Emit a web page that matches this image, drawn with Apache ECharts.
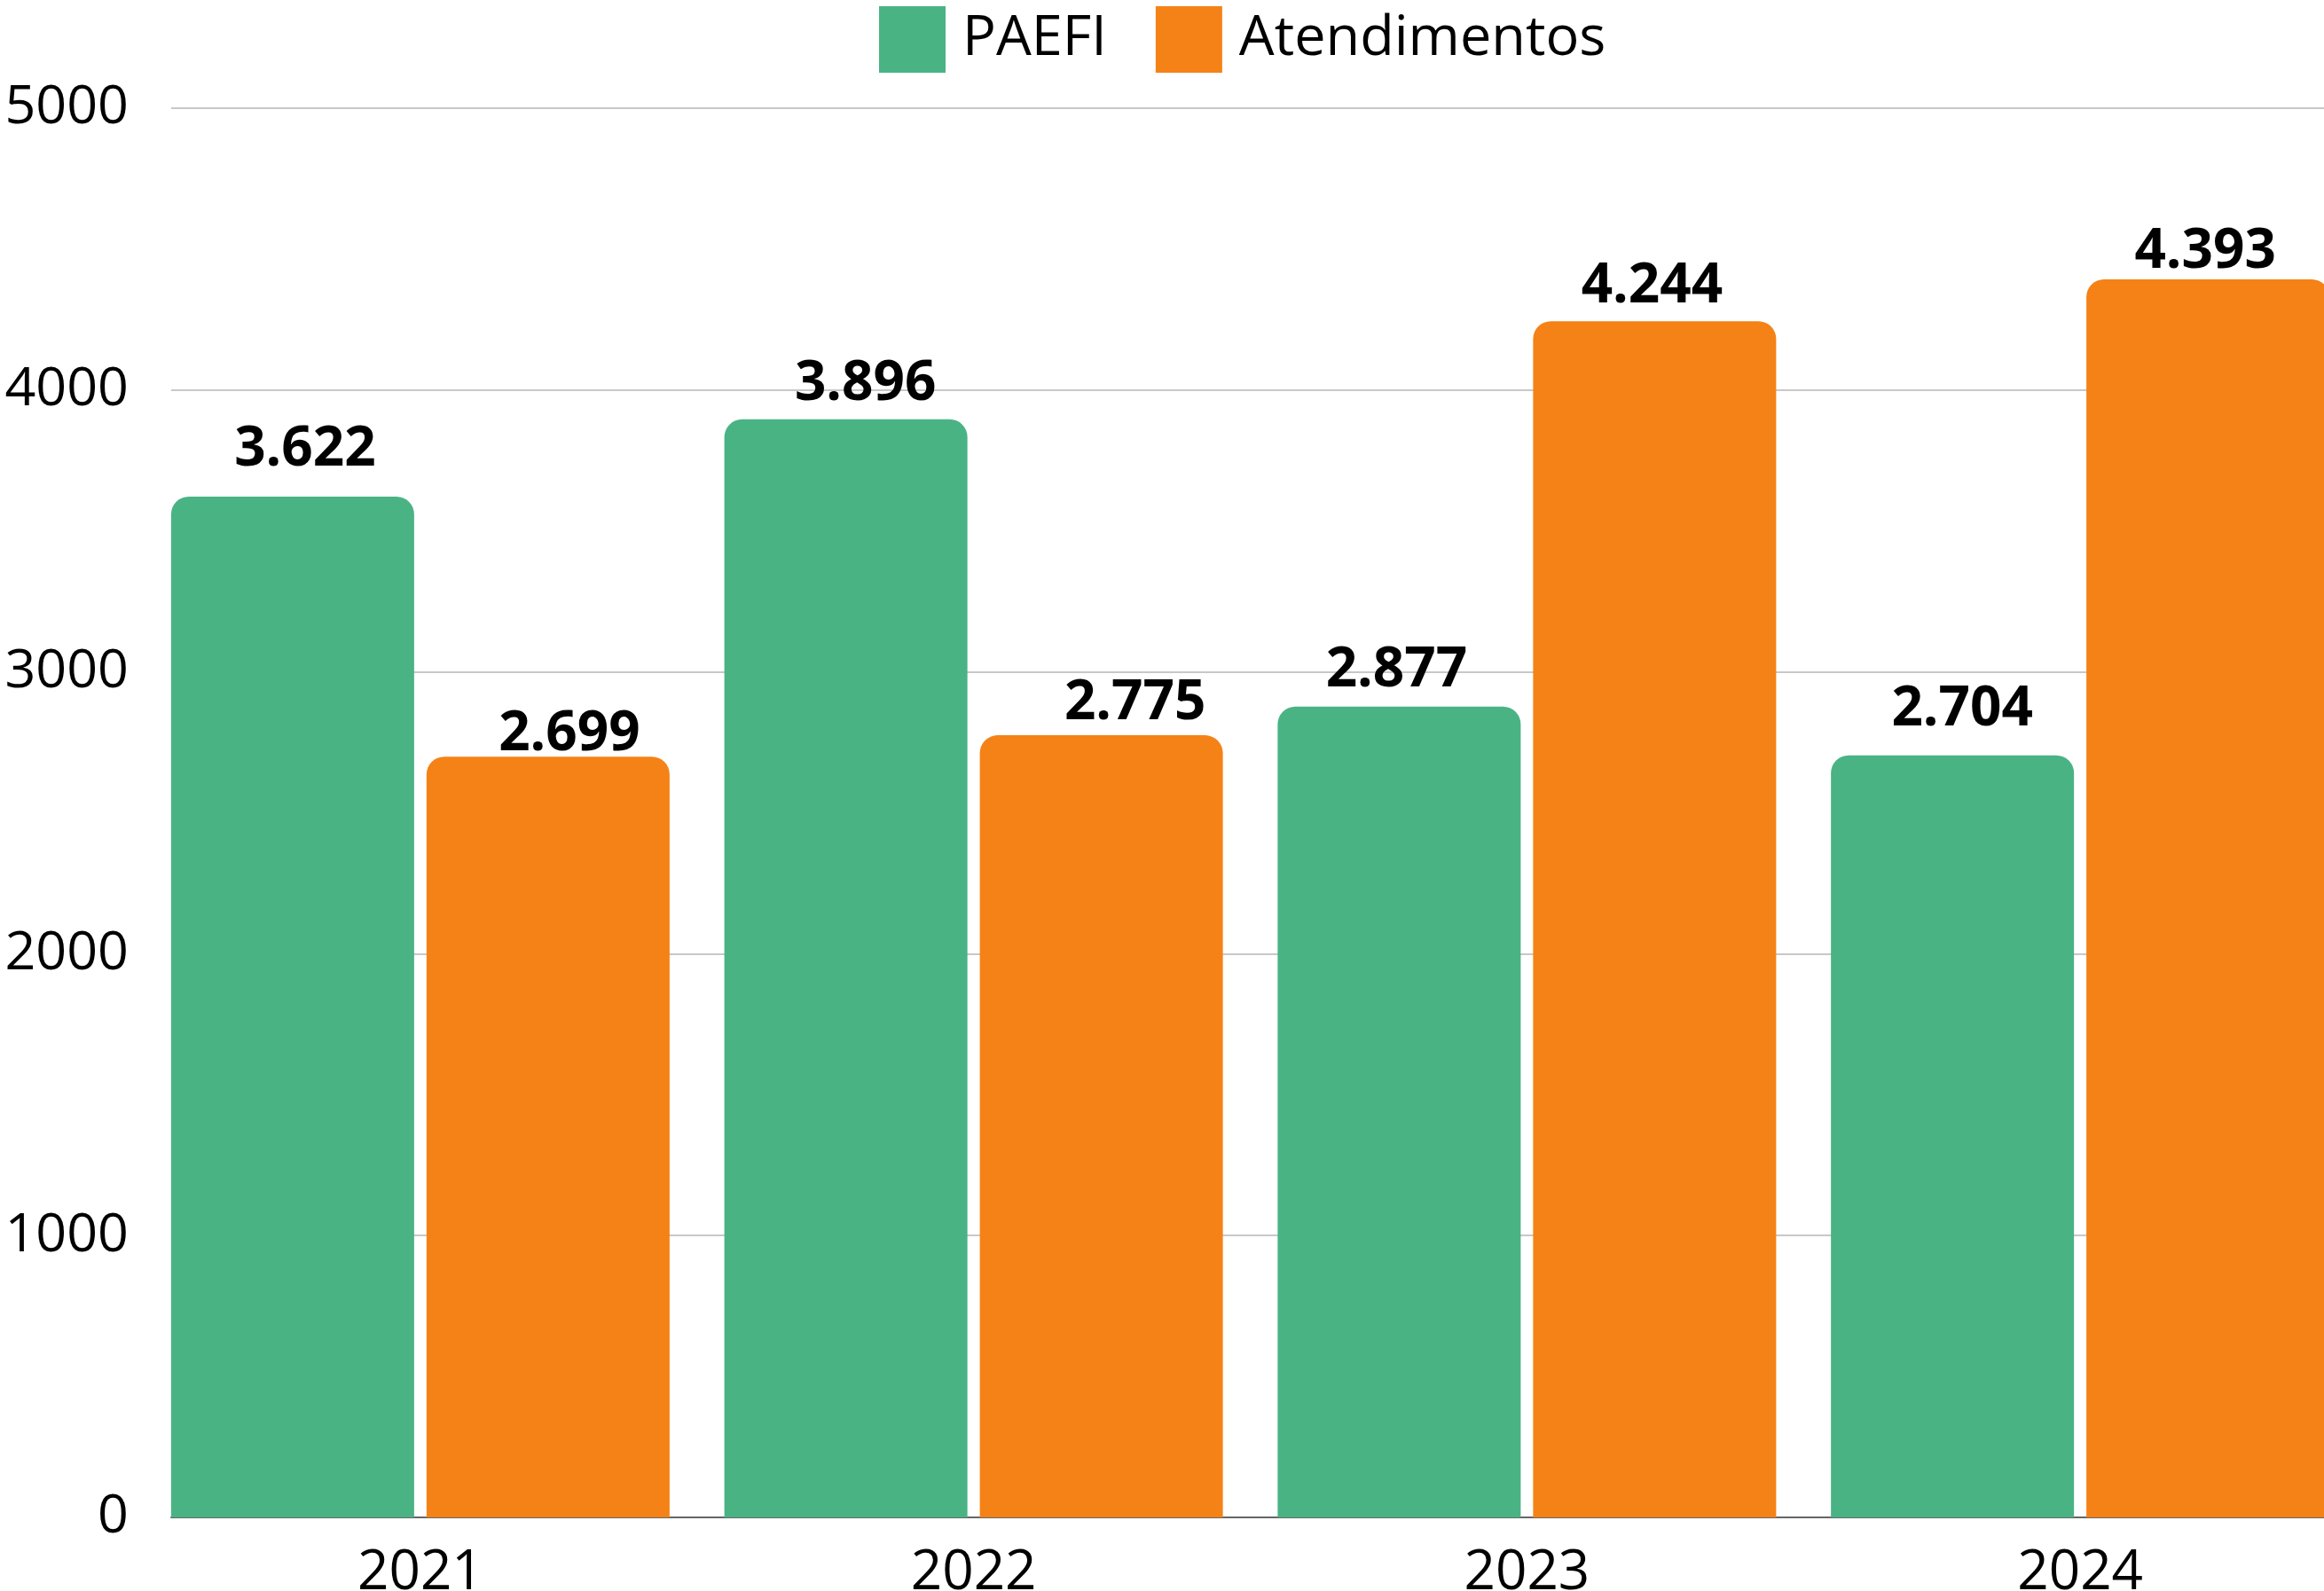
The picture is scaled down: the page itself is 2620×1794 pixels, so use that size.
<!DOCTYPE html>
<html>
<head>
<meta charset="utf-8">
<script src="https://cdn.jsdelivr.net/npm/echarts@6/dist/echarts.min.js"></script>
<style>
  html, body { margin: 0; padding: 0; background: #fff; }
  #chart { width: 2620px; height: 1794px; }
</style>
</head>
<body>
<div id="chart"></div>
<script>
const anos = ['2021', '2022', '2023', '2024']
const paefi = [3622, 3896, 2877, 2704]
const atendimentos = [2699, 2775, 4244, 4393]
const yTicks = [0, 1000, 2000, 3000, 4000, 5000]

const fonte = '"Open Sans", "Noto Sans", sans-serif'

// the labels in the original aren't placed evenly, small nudges [dx, dy]
const ajustePaefi = [[14, 0], [22, 13], [-3, 13], [11, 2]]
const ajusteAtend = [[24, 28], [38, 17], [-3, 14], [-3, 22]]

// 3622 -> "3.622"
function fmt(v) {
  return String(v).replace(/\B(?=(\d{3})+(?!\d))/g, '.')
}

const chart = echarts.init(document.getElementById('chart'))

const rotulo = {
  show: true,
  position: 'top',
  distance: 22,
  fontFamily: fonte,
  fontSize: 62,
  fontWeight: 'bold',
  color: '#000',
  formatter: p => fmt(p.value)
}

function itens(valores, ajustes) {
  return valores.map((v, i) => ({ value: v, label: { offset: ajustes[i] } }))
}

const option = {
  backgroundColor: '#fff',
  animation: false,
  color: ['#4AB384', '#F58216'],
  legend: {
    left: 991,
    top: 7,
    padding: 0,
    icon: 'rect',
    itemWidth: 75,
    itemHeight: 75,
    itemGap: 55,
    textStyle: { fontFamily: fonte, fontSize: 63, color: '#000', padding: [22, 0, 0, 14] },
    data: ['PAEFI', 'Atendimentos']
  },
  grid: [
    // bars grid (runs past the right edge, like the original)
    { left: 162, width: 2495, top: 122, bottom: 83, outerBoundsMode: 'none' },
    // gridlines / y labels
    { left: 193, right: 0, top: 122, bottom: 83, outerBoundsMode: 'none' }
  ],
  xAxis: [
    {
      type: 'category',
      gridIndex: 0,
      data: anos,
      axisLine: { show: false },
      axisTick: { show: false },
      axisLabel: { fontFamily: fonte, fontSize: 62, color: '#000', margin: 32 }
    },
    {
      type: 'value',
      gridIndex: 1,
      min: 0,
      max: 1,
      axisLine: { show: true, lineStyle: { color: '#666', width: 2 } },
      axisTick: { show: false },
      axisLabel: { show: false },
      splitLine: { show: false }
    }
  ],
  yAxis: [
    {
      type: 'value',
      gridIndex: 0,
      min: yTicks[0],
      max: yTicks[yTicks.length - 1],
      interval: 1000,
      show: false,
      splitLine: { show: false }
    },
    {
      type: 'value',
      gridIndex: 1,
      min: yTicks[0],
      max: yTicks[yTicks.length - 1],
      interval: 1000,
      axisLine: { show: false },
      axisTick: { show: false },
      axisLabel: {
        fontFamily: fonte, fontSize: 61, color: '#000', margin: 48,
        padding: [18, 0, 0, 0],
        formatter: v => String(v)
      },
      splitLine: { lineStyle: { color: '#c8c8c8', width: 2 } }
    }
  ],
  series: [
    {
      name: 'PAEFI',
      type: 'bar',
      xAxisIndex: 0,
      yAxisIndex: 0,
      data: itens(paefi, ajustePaefi),
      barCategoryGap: '9.9%',
      barGap: '5.1%',
      itemStyle: { borderRadius: [20, 20, 0, 0] },
      label: rotulo
    },
    {
      name: 'Atendimentos',
      type: 'bar',
      xAxisIndex: 0,
      yAxisIndex: 0,
      data: itens(atendimentos, ajusteAtend),
      barCategoryGap: '9.9%',
      barGap: '5.1%',
      itemStyle: { borderRadius: [20, 20, 0, 0] },
      label: rotulo
    }
  ]
}

chart.setOption(option)
</script>
</body>
</html>
